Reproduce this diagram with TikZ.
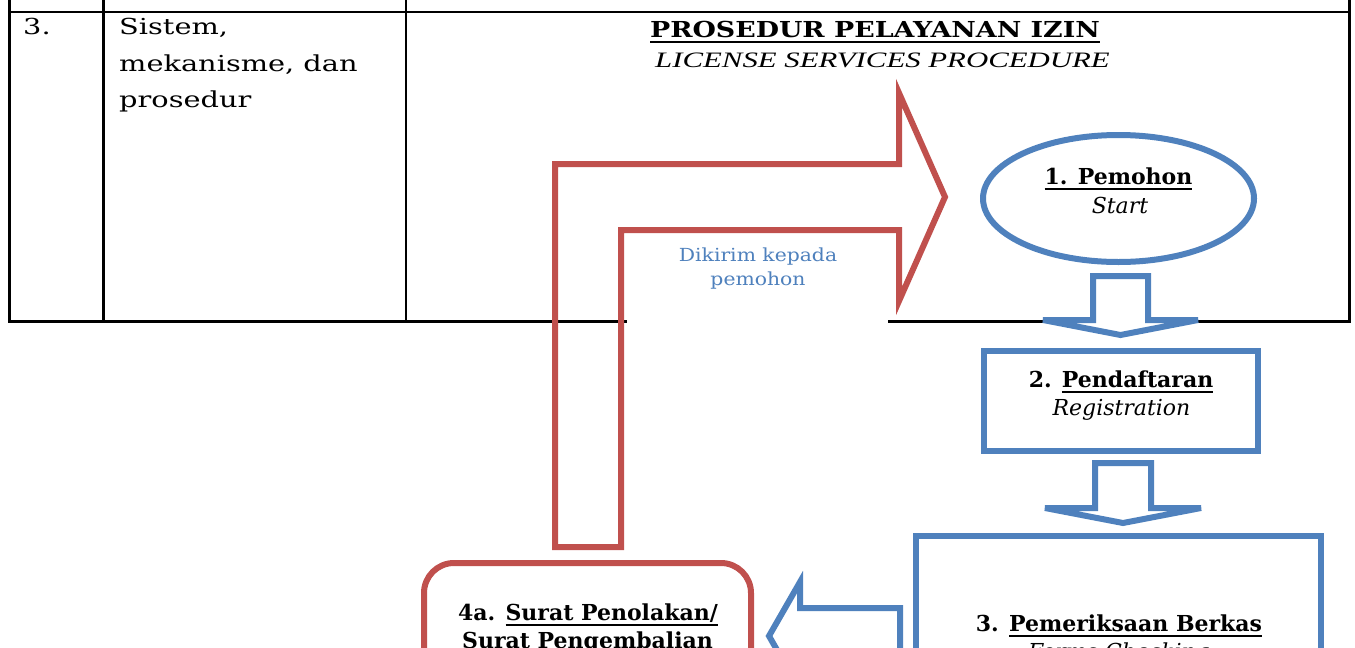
\documentclass[tikz,border=0pt]{standalone}
\usepackage{fontspec}
\setmainfont{DejaVu Serif}
\newfontfamily\cellfont[FakeStretch=1.31]{DejaVu Serif}
\newfontfamily\headfont[FakeStretch=1.22]{DejaVu Serif}
\newfontfamily\subheadfont[FakeStretch=1.4]{Liberation Serif}
\newfontfamily\notefont[FakeStretch=1.13]{DejaVu Serif}
\usetikzlibrary{shapes.geometric}

\definecolor{accentred}{HTML}{C0504D}
\definecolor{accentblue}{HTML}{4F81BD}

% underline drawn as a rule of fixed depth and weight
\newcommand\udl[1]{\setbox0\hbox{#1}\rlap{\rule[-6pt]{\wd0}{2.4pt}}\box0}

\tikzset{
  rule/.style={line width=2.5pt, draw=black},
  bluebox/.style={draw=accentblue, line width=6pt, fill=white, inner sep=0pt},
  redbox/.style={draw=accentred, line width=6pt, fill=white, inner sep=0pt, rounded corners=30pt},
  bluearrow/.style={draw=accentblue, line width=6pt, fill=white, line join=miter},
  redarrow/.style={draw=accentred, line width=6pt, line join=miter},
  txt/.style={inner sep=0pt, anchor=base, font=\fontsize{22}{26}\selectfont},
  celltxt/.style={inner sep=0pt, anchor=base west, font=\fontsize{22}{26}\cellfont},
  notetxt/.style={inner sep=0pt, anchor=base, text=accentblue, font=\fontsize{18}{22}\notefont},
}

\begin{document}
\begin{tikzpicture}[x=1pt,y=-1pt]
\useasboundingbox (0,0) rectangle (1355,648);

% table row
\draw[rule] (9.5,0) -- (9.5,321.5) -- (1349.5,321.5) -- (1349.5,0);
\draw[rule] (103.5,0) -- (103.5,321.5);
\draw[rule] (406,0) -- (406,321.5);
\draw[rule] (9.5,12) -- (1349.5,12);

\node[celltxt] (num) at (23,34.5) {3.};
\node[celltxt] (l1) at (119,34.5) {Sistem,};
\node[celltxt] (l2) at (119,71) {mekanisme, dan};
\node[celltxt] (l3) at (119,107.5) {prosedur};

% heading
\node[txt, font=\fontsize{22}{26}\headfont] (title) at (875,37) {\udl{\bfseries PROSEDUR PELAYANAN IZIN}};
\node[txt, font=\fontsize{22}{26}\subheadfont\itshape] (subtitle) at (882.5,67.5) {LICENSE SERVICES PROCEDURE};

% label box for the return path
\node[fill=white, inner sep=0pt, minimum width=261pt, minimum height=92pt] (notebox) at (757.5,284) {};
\node[notetxt] (note1) at (758,261.5) {Dikirim kepada};
\node[notetxt] (note2) at (758,285) {pemohon};

% bent return arrow
\draw[redarrow] (555,547) -- (555,164) -- (899,164) -- (899,93) -- (945,197)
  -- (899,301) -- (899,230) -- (621,230) -- (621,547) -- cycle;

% step 1
\node[bluebox, ellipse, minimum width=271pt, minimum height=127pt] (start) at (1118.5,198.5) {};
\node[txt] (start1) at (1118.5,184) {\udl{\bfseries 1. Pemohon}};
\node[txt] (start2) at (1120,213) {\itshape Start};

% arrow 1 -> 2
\draw[bluearrow] (1093,276) -- (1148,276) -- (1148,320) -- (1198,320) -- (1120.5,335)
  -- (1043,320) -- (1093,320) -- cycle;

% step 2
\node[bluebox, minimum width=274pt, minimum height=100pt] (reg) at (1121,401) {};
\node[txt] (reg1) at (1121,387) {\bfseries 2. \udl{Pendaftaran}};
\node[txt] (reg2) at (1121.5,415) {\itshape Registration};

% arrow 2 -> 3
\draw[bluearrow] (1095,463) -- (1151,463) -- (1151,508) -- (1201,508) -- (1123,523)
  -- (1045,508) -- (1095,508) -- cycle;

% step 3
\node[bluebox, minimum width=405pt, minimum height=224pt] (check) at (1118.5,648) {};
\node[txt] (check1) at (1119,631) {\bfseries 3. \udl{Pemeriksaan Berkas}};
\node[txt] (check2) at (1119,659) {\itshape Forms Checking};

% arrow 3 -> 4a
\draw[bluearrow] (769,636) -- (800,582) -- (800,608) -- (900,608) -- (900,664)
  -- (800,664) -- (800,690) -- cycle;

% step 4a
\node[redbox, minimum width=327pt, minimum height=180pt] (reject) at (587.5,653) {};
\node[txt] (reject1) at (588,620) {\bfseries 4a. \udl{Surat Penolakan/}};
\node[txt] (reject2) at (587.5,648) {\bfseries \udl{Surat Pengembalian}};
\end{tikzpicture}
\end{document}
